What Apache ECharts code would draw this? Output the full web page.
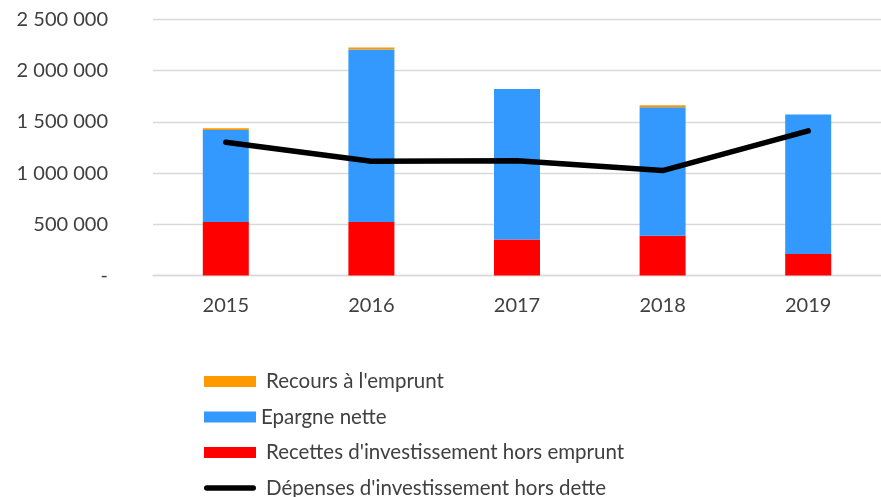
<!DOCTYPE html>
<html>
<head>
<meta charset="utf-8">
<script src="https://cdn.jsdelivr.net/npm/echarts@6/dist/echarts.min.js"></script>
<style>html,body{margin:0;padding:0;background:#fff}#c{width:881px;height:497px}</style>
</head>
<body>
<div id="c"></div>
<script>
var categories = ['2015', '2016', '2017', '2018', '2019'];
var recettes = [523000, 523000, 352000, 387000, 211000];
var epargne = [899000, 1684000, 1470000, 1257000, 1361000];
var recours = [16000, 20000, 0, 19000, 0];
var depenses = [1302000, 1116000, 1120000, 1025000, 1412000];
var yTicks = [0, 500000, 1000000, 1500000, 2000000, 2500000];
var names = ['Recours à l\'emprunt', 'Epargne nette', 'Recettes d\'investissement hors emprunt', 'Dépenses d\'investissement hors dette'];

function fmt(v) {
  if (v === 0) return '-';
  return String(v).replace(/\B(?=(\d{3})+(?!\d))/g, ' ');
}

var chart = echarts.init(document.getElementById('c'), null, {renderer: 'canvas'});
var font = 'Lato';
chart.setOption({
  animation: false,
  grid: {left: 153, right: -3, top: 19.5, height: 256, containLabel: false},
  xAxis: {
    type: 'category',
    data: categories,
    axisLine: {lineStyle: {color: '#D9D9D9', width: 1.3}},
    axisTick: {show: false},
    axisLabel: {color: '#404040', fontFamily: font, fontSize: 20, margin: 20}
  },
  yAxis: {
    type: 'value',
    min: yTicks[0],
    max: yTicks[yTicks.length - 1],
    interval: yTicks[1] - yTicks[0],
    axisLine: {show: false},
    axisTick: {show: false},
    splitLine: {lineStyle: {color: '#D9D9D9', width: 1.3}},
    axisLabel: {color: '#404040', fontFamily: font, fontSize: 20, margin: 45, formatter: fmt}
  },
  legend: {
    orient: 'vertical',
    left: 204,
    top: 371,
    height: 200,
    padding: 0,
    itemWidth: 52,
    itemHeight: 11,
    itemGap: 14.5,
    textStyle: {color: '#404040', fontFamily: font, fontSize: 20.5, lineHeight: 18, padding: [0, 0, 0, 5]},
    data: [
      {name: names[0], icon: 'rect'},
      {name: names[1], icon: 'rect', textStyle: {padding: [0, 0, 0, 0]}},
      {name: names[2], icon: 'rect'},
      {name: names[3], icon: 'path://M0,0 M56,11 M3,2.5 L53,2.5 A3,3 0 0 1 53,8.5 L3,8.5 A3,3 0 0 1 3,2.5 Z', itemStyle: {color: '#000'}}
    ]
  },
  series: [
    {name: names[2], type: 'bar', stack: 's', data: recettes, barWidth: 46, itemStyle: {color: '#FF0000'}},
    {name: names[1], type: 'bar', stack: 's', data: epargne, barWidth: 46, itemStyle: {color: '#3399FF'}},
    {name: names[0], type: 'bar', stack: 's', data: recours, barWidth: 46, itemStyle: {color: '#FF9900'}},
    {name: names[3], type: 'line', data: depenses, symbol: 'none', z: 5,
     lineStyle: {color: '#000000', width: 5.5, cap: 'round', join: 'round'}, itemStyle: {color: '#000'}}
  ]
});
</script>
</body>
</html>
